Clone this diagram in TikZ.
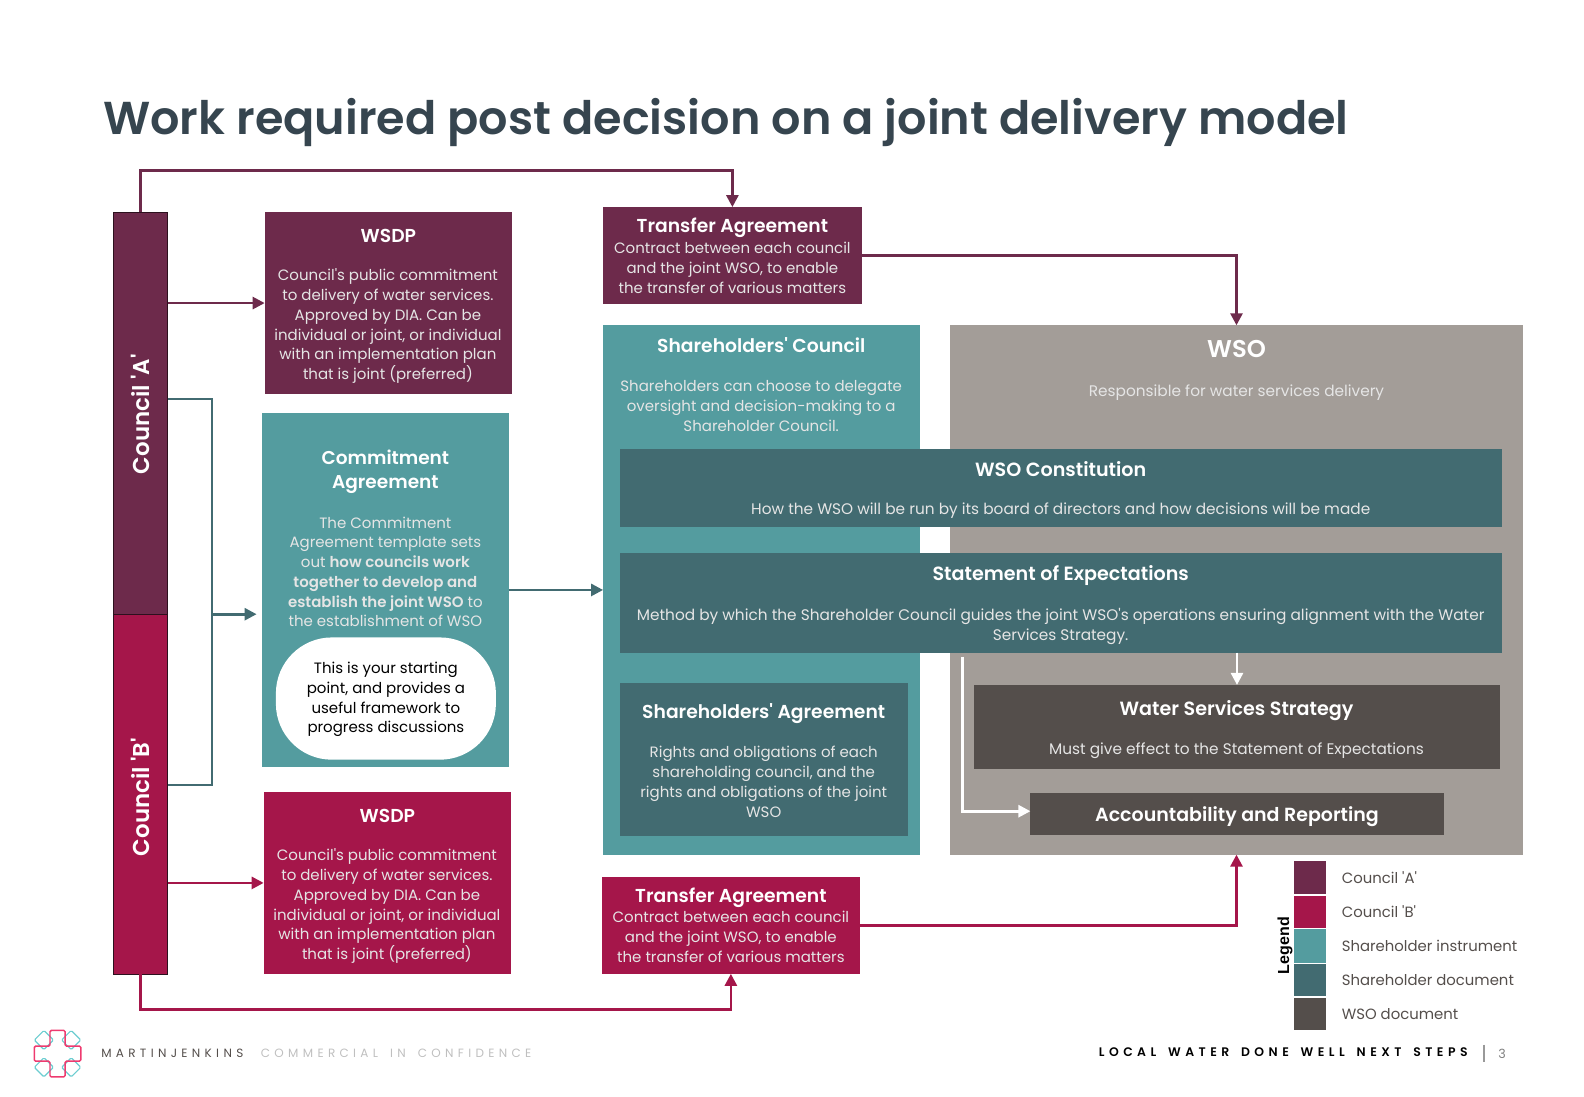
\documentclass[tikz,border=0pt]{standalone}
\usepackage{fontspec}
\setmainfont{Poppins}[Ligatures=TeXOff,BoldFont={Poppins SemiBold}]
\newfontfamily\spacedfont{Poppins}[LetterSpace=36,Ligatures=TeXOff,BoldFont={Poppins SemiBold},WordSpace=1.6]
\newfontfamily\legendfont{Liberation Sans}
\usetikzlibrary{arrows.meta,calc}
\definecolor{plum}{HTML}{6D2A4B}
\definecolor{crimson}{HTML}{A5164A}
\definecolor{teal1}{HTML}{549C9F}
\definecolor{teal2}{HTML}{426B71}
\definecolor{stone}{HTML}{A39D98}
\definecolor{umber}{HTML}{544E4B}
\definecolor{slate}{HTML}{36454F}
\definecolor{pinkl}{HTML}{EE3A6F}
\definecolor{aqua}{HTML}{6CCDD0}
\newcommand\boxat[6]{\node[rbox,#6,minimum width={(#4-#2)*0.7576pt},minimum height={(#5-#3)*0.7576pt}] (#1) at ({(#2+#4)/2},{(#3+#5)/2}) {};}
\tikzset{
 rbox/.style={draw=none,inner sep=0pt,outer sep=0pt,rectangle},
 head/.style={text=white,font=\fontsize{14.05}{15}\selectfont\bfseries,align=center,inner sep=0pt},
 widehead/.style={text=white,font=\fontsize{14.35}{15}\selectfont\bfseries,align=center,inner sep=0pt},
 body/.style={text=white!90!black,font=\fontsize{11.25}{14.8}\selectfont,align=center,inner sep=0pt},
 widebody/.style={text=white!90!black,font=\fontsize{11.5}{14.8}\selectfont,align=center,inner sep=0pt},
 link/.style={line width=2pt,-{Triangle[length=9pt,width=9pt]}},
 plainlink/.style={line width=2pt},
 leg/.style={text=umber,font=\fontsize{11.15}{13}\selectfont,anchor=west,inner sep=0pt},
}
\begin{document}
\begin{tikzpicture}[x=0.7576pt,y=-0.7576pt]
\useasboundingbox (0,0) rectangle (1568,1085);
\node[anchor=base west,inner sep=0pt,text=slate,font=\fontsize{34.6}{40}\selectfont\bfseries] (title) at (102,133) {Work required post decision on a joint delivery model};
% panels
\boxat{sc}{597}{322}{911}{846}{fill=teal1}
\boxat{wso}{940}{322}{1508}{846}{fill=stone}
\boxat{ca}{112}{210}{166}{608}{fill=plum,draw=black!60!plum}
\boxat{cb}{112}{608}{166}{964}{fill=crimson,draw=black!60!plum}
\boxat{wa}{262}{210}{507}{390}{fill=plum}
\boxat{ws}{261}{784}{506}{964}{fill=crimson}
\boxat{cm}{259}{409}{504}{759}{fill=teal1}
\boxat{tt}{597}{205}{853}{301}{fill=plum}
\boxat{tb}{596}{868}{851}{964}{fill=crimson}
\boxat{con}{614}{444}{1487}{522}{fill=teal2}
\boxat{soe}{614}{547}{1487}{646}{fill=teal2}
\boxat{sa}{614}{676}{899}{828}{fill=teal2}
\boxat{wss}{964}{678}{1485}{761}{fill=umber}
\boxat{acc}{1020}{785}{1429}{827}{fill=umber}
\node[fill=white,rounded corners=42pt,minimum width=165pt,minimum height=91.7pt,inner sep=0pt] (start) at (382,691.5) {};
% council labels
\node[rotate=90,head,font=\fontsize{17.2}{18}\selectfont\bfseries] (la) at (139,410) {Council 'A'};
\node[rotate=90,head,font=\fontsize{17.2}{18}\selectfont\bfseries] (lb) at (139,789) {Council 'B'};
% texts
\node[head] (wah) at (384.5,233.5) {WSDP};
\node[body] (wab) at (384,323) {Council's public commitment\\to delivery of water services.\\Approved by DIA. Can be\\individual or joint, or individual\\with an implementation plan\\that is joint (preferred)};
\node[head] (wsh) at (383.5,807.5) {WSDP};
\node[body] (wsb) at (383,897) {Council's public commitment\\to delivery of water services.\\Approved by DIA. Can be\\individual or joint, or individual\\with an implementation plan\\that is joint (preferred)};
\node[head,font=\fontsize{13.9}{18.5}\selectfont\bfseries] (cmh) at (381.5,467) {Commitment\\Agreement};
\node[body] (cmb) at (381.5,566) {The Commitment\\Agreement template sets\\out \textbf{how councils work}\\\textbf{together to develop and}\\\textbf{establish the joint WSO} to\\the establishment of WSO};
\node[body,text=black] (stt) at (382,692.5) {This is your starting\\point, and provides a\\useful framework to\\progress discussions};
\node[head] (tth) at (725,225.5) {Transfer Agreement};
\node[body] (ttb) at (725,265) {Contract between each council\\and the joint WSO, to enable\\the transfer of various matters};
\node[head] (tbh) at (723.5,888.5) {Transfer Agreement};
\node[body] (tbb) at (723.5,927.5) {Contract between each council\\and the joint WSO, to enable\\the transfer of various matters};
\node[head] (sch) at (753.5,341.5) {Shareholders' Council};
\node[body] (scb) at (753.5,402) {Shareholders can choose to delegate\\oversight and decision-making to a\\Shareholder Council.};
\node[head,font=\fontsize{18.2}{20}\selectfont\bfseries] (wsoh) at (1224,345.5) {WSO};
\node[widebody] (wsob) at (1224,389) {Responsible for water services delivery};
\node[widehead] (conh) at (1050,464.5) {WSO Constitution};
\node[widebody] (conb) at (1050,505.5) {How the WSO will be run by its board of directors and how decisions will be made};
\node[widehead] (soeh) at (1050,570) {Statement of Expectations};
\node[widebody] (soeb) at (1050,620) {Method by which the Shareholder Council guides the joint WSO's operations ensuring alignment with the Water\\Services Strategy.};
\node[head] (sah) at (756,706) {Shareholders' Agreement};
\node[body] (sab) at (756,774) {Rights and obligations of each\\shareholding council, and the\\rights and obligations of the joint\\WSO};
\node[widehead] (wssh) at (1224,703) {Water Services Strategy};
\node[widebody] (wssb) at (1224,743) {Must give effect to the Statement of Expectations};
\node[head,font=\fontsize{14.25}{16}\selectfont\bfseries] (acch) at (1224.5,808) {Accountability and Reporting};
% connectors
\draw[link,plum] (ca.north) -- ++(0,-41) -| (tt.north);
\draw[link,plum] (ca.east |- wa.west) -- (wa.west);
\draw[link,plum] (tt.east) -| (wso.north);
\coordinate (ja) at (210,395);
\coordinate (jb) at (210,777);
\coordinate (jm) at (210,608);
\coordinate (tip) at (254,608);
\draw[plainlink,teal2] (ca.east |- ja) -- (ja) -- (jb) -- (cb.east |- jb);
\draw[link,teal2] (jm) -- (tip);
\draw[link,teal2] (cm.east) -- (sc.west);
\draw[link,crimson] (cb.east |- ws.west) -- (ws.west);
\draw[link,crimson] (cb.south) -- ++(0,35) -| (tb.south);
\draw[link,crimson] (tb.east) -| (wso.south);
\draw[link,white] (soe.south -| wss.north) -- (wss.north);
\coordinate (wstart) at (953,650);
\coordinate (wend) at ($(acc.west)+(0,-3)$);
\draw[link,white] (wstart) |- (wend);
% legend
\boxat{l1}{1281}{852}{1313}{885}{fill=plum}
\boxat{l2}{1281}{887}{1313}{919}{fill=crimson}
\boxat{l3}{1281}{920}{1313}{953}{fill=teal1}
\boxat{l4}{1281}{954}{1313}{986}{fill=teal2}
\boxat{l5}{1281}{988}{1313}{1020}{fill=umber}
\node[leg] (lt1) at (1328,869) {Council 'A'};
\node[leg] (lt2) at (1328,902.5) {Council 'B'};
\node[leg] (lt3) at (1328,936) {Shareholder instrument};
\node[leg] (lt4) at (1328,970) {Shareholder document};
\node[leg] (lt5) at (1328,1003.5) {WSO document};
\node[rotate=90,inner sep=0pt,text=black,font=\legendfont\fontsize{12}{13}\selectfont\bfseries] (lh) at (1272,936) {Legend};
% footer logo
\begin{scope}[shift={(57,1043)}]
\foreach \sx/\sy in {-1/-1,1/-1,-1/1,1/1}
  \draw[aqua,line width=0.9pt,rounded corners=1pt] ({\sx*13.5},{\sy*13.5-9.5}) -- ({\sx*13.5+9.5},{\sy*13.5}) -- ({\sx*13.5},{\sy*13.5+9.5}) -- ({\sx*13.5-9.5},{\sy*13.5}) -- cycle;
\draw[pinkl,line width=1.1pt,rounded corners=1pt] (-7.5,-23) -- (7.5,-23) -- (7.5,-7.5) -- (23,-7.5) -- (23,7.5) -- (7.5,7.5) -- (7.5,23) -- (-7.5,23) -- (-7.5,7.5) -- (-23,7.5) -- (-23,-7.5) -- (-7.5,-7.5) -- cycle;
\end{scope}
\node[anchor=west,inner sep=0pt,text=umber,font=\spacedfont\fontsize{9}{10}\selectfont] (f1) at (100,1042.5) {MARTINJENKINS};
\node[anchor=west,inner sep=0pt,text=black!25,font=\spacedfont\fontsize{9}{10}\selectfont] (f2) at (258,1042.5) {COMMERCIAL IN CONFIDENCE};
\node[anchor=east,inner sep=0pt,text=black,font=\spacedfont\fontsize{9.3}{10}\selectfont\bfseries] (f3) at (1453,1041.5) {LOCAL WATER DONE WELL NEXT STEPS};
\coordinate (d1) at (1469,1034);
\coordinate (d2) at (1469,1051);
\draw[black!40,line width=0.8pt] (d1) -- (d2);
\node[inner sep=0pt,text=black!50,font=\fontsize{9.5}{11}\selectfont] (f4) at (1487,1043) {3};
\end{tikzpicture}
\end{document}
